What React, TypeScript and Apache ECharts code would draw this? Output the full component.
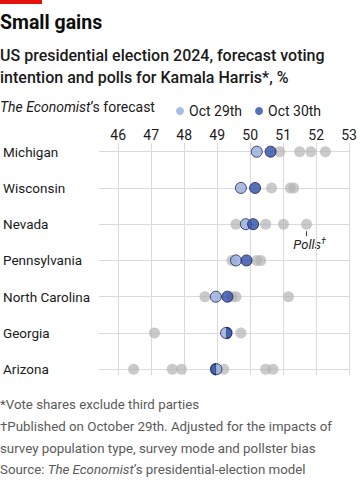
import React, { useEffect, useRef } from 'react';
import * as echarts from 'echarts';

const states = ['Michigan', 'Wisconsin', 'Nevada', 'Pennsylvania', 'North Carolina', 'Georgia', 'Arizona'];
const xTicks = [46, 47, 48, 49, 50, 51, 52, 53];
const forecastOct29 = [50.2, 49.72, 49.87, 49.57, 48.96, 49.27, 48.98];
const forecastOct30 = [50.62, 50.15, 50.09, 49.89, 49.31, 49.29, 48.96];
const pollsMichigan = [50.9, 51.5, 51.84, 52.28];
const pollsWisconsin = [50.65, 51.22, 51.32];
const pollsNevada = [49.57, 50.47, 51.01, 51.71];
const pollsPennsylvania = [49.45, 50.2, 50.32];
const pollsNorthCarolina = [48.63, 49.45, 49.57, 51.16];
const pollsGeorgia = [47.1, 49.72];
const pollsArizona = [46.47, 47.64, 47.92, 49.2, 50.47, 50.69];
const polls = [pollsMichigan, pollsWisconsin, pollsNevada, pollsPennsylvania, pollsNorthCarolina, pollsGeorgia, pollsArizona];
const pollsLabelState = 2;
const pollsLabelValue = 51.71;

const FONT = 'Roboto, "Noto Sans", sans-serif';
const LIGHT = '#93acdb';
const DARK = '#2d4ea8';
const BORDER = '#1b2150';
const RIGHT_HALF = 'path://M0,0 A10,10 0 0 1 0,20 Z';
const LEFT_HALF = 'path://M10,0 A10,10 0 0 0 10,20 Z';
const halfSide: Record<number, 'left' | 'right'> = { 5: 'right', 6: 'left' };

export default function App() {
  const ref = useRef<HTMLDivElement>(null);
  useEffect(() => {
    if (!ref.current) return;
    const chart = echarts.init(ref.current, undefined, { renderer: 'svg' });
    const pollData: number[][] = [];
    polls.forEach((arr, i) => arr.forEach((v) => pollData.push([v, i])));
    const lightData = forecastOct29.map((v, i) => [v, i]);
    const darkData = forecastOct30.map((v, i) => {
      const side = halfSide[i];
      if (!side) return [v, i];
      return {
        value: [v, i],
        symbol: side === 'right' ? RIGHT_HALF : LEFT_HALF,
        symbolSize: [5.5, 11],
        symbolOffset: [side === 'right' ? 2.75 : -2.75, 0],
      };
    });
    const text = (t: string, x: number, y: number, size: number, extra: any = {}) => ({
      type: 'text',
      x,
      y,
      silent: true,
      style: {
        text: t,
        fontSize: size,
        fontFamily: FONT,
        fill: extra.fill || '#1a1a1a',
        fontWeight: extra.fontWeight || 'normal',
        fontStyle: extra.fontStyle || 'normal',
        verticalAlign: 'middle',
        align: extra.align || 'left',
        rich: extra.rich,
      },
    });
    const foot = '#5a5a5a';
    const option: any = {
      animation: false,
      textStyle: { fontFamily: FONT },
      grid: { left: 97, right: 8, top: 143, height: 232 },
      legend: {
        data: ['Oct 29th', 'Oct 30th'],
        left: 171,
        top: 99,
        icon: 'circle',
        itemWidth: 8,
        itemHeight: 8,
        itemGap: 13,
        itemStyle: { borderWidth: 0 },
        textStyle: { fontSize: 14, color: '#1a1a1a', fontFamily: FONT },
        selectedMode: false,
      },
      xAxis: {
        type: 'value',
        position: 'top',
        min: 45.42,
        max: 53,
        splitNumber: 8,
        axisLine: { show: false },
        axisTick: { show: false },
        splitLine: { show: false },
        axisLabel: {
          customValues: xTicks,
          fontSize: 14,
          color: '#1a1a1a',
          margin: 1,
          fontFamily: FONT,
          formatter: (v: number) => (Math.abs(v - Math.round(v)) < 1e-6 && v >= 46 ? String(Math.round(v)) : ''),
        },
      },
      yAxis: {
        type: 'value',
        inverse: true,
        min: -0.24,
        max: 6.16,
        axisLine: { show: false },
        axisTick: { show: false },
        splitLine: { show: false },
        axisLabel: {
          customValues: states.map((_, i) => i),
          fontSize: 13.5,
          color: '#1a1a1a',
          align: 'left',
          margin: 96,
          fontFamily: FONT,
          formatter: (v: number) => (Math.abs(v - Math.round(v)) < 1e-6 && states[Math.round(v)] ? states[Math.round(v)] : ''),
        },
      },
      series: [
        {
          name: 'Polls',
          type: 'scatter',
          z: 10,
          data: pollData,
          symbolSize: 11,
          itemStyle: { color: '#b4b4b4', opacity: 0.7 },
          silent: true,
          markLine: {
            silent: true,
            z: 1,
            symbol: 'none',
            label: { show: false },
            lineStyle: { color: '#dadada', width: 1, type: 'solid' },
            data: [...xTicks.map((v) => ({ xAxis: v })), ...states.map((_, i) => ({ yAxis: i }))],
          },
        },
        {
          name: 'Oct 29th',
          type: 'scatter',
          z: 11,
          data: lightData,
          symbolSize: 11,
          itemStyle: { color: LIGHT, borderColor: BORDER, borderWidth: 1 },
        },
        {
          name: 'Oct 30th',
          type: 'scatter',
          z: 12,
          data: darkData,
          symbolSize: 11,
          itemStyle: { color: DARK, borderColor: BORDER, borderWidth: 1 },
        },
      ],
    };
    chart.setOption(option);
    const p = chart.convertToPixel({ gridIndex: 0 }, [pollsLabelValue, pollsLabelState]) as number[];
    const graphic = [
      { type: 'rect', shape: { x: 0, y: 0, width: 42, height: 4 }, style: { fill: '#e3120b' }, silent: true },
      text('Small gains', 0, 22, 19.5, { fontWeight: 'bold', fill: '#0d0d0d' }),
      text('US presidential election 2024, forecast voting', 0, 55, 16, { fontWeight: 500 }),
      text('intention and polls for Kamala Harris*, %', 0, 77, 16, { fontWeight: 500 }),
      text('{i|The Economist}’s forecast', 0, 107, 14, {
        rich: { i: { fontStyle: 'italic', fontSize: 14, fontFamily: FONT, fill: '#1a1a1a' } },
      }),
      { type: 'line', shape: { x1: p[0], y1: p[1] + 7, x2: p[0], y2: p[1] + 12 }, style: { stroke: '#333', lineWidth: 1 }, silent: true },
      text('Polls{s|†}', p[0] + 3, p[1] + 20, 13, {
        fontStyle: 'italic',
        align: 'center',
        fill: '#222',
        rich: { s: { fontSize: 9, fontStyle: 'italic', fontFamily: FONT, fill: '#222', verticalAlign: 'top', padding: [0, 0, 6, 0] } },
      }),
      text('*Vote shares exclude third parties', 0, 404, 13.3, { fill: foot }),
      text('†Published on October 29th. Adjusted for the impacts of', 0, 426, 13.3, { fill: foot }),
      text('survey population type, survey mode and pollster bias', 0, 448, 13.3, { fill: foot }),
      text('Source: {i|The Economist}’s presidential-election model', 0, 469, 13.3, {
        fill: foot,
        rich: { i: { fontStyle: 'italic', fontSize: 13.3, fontFamily: FONT, fill: foot } },
      }),
    ];
    chart.setOption({ graphic });
    return () => chart.dispose();
  }, []);
  return <div ref={ref} style={{ position: 'absolute', left: 0, top: 0, width: 360, height: 480 }} />;
}
